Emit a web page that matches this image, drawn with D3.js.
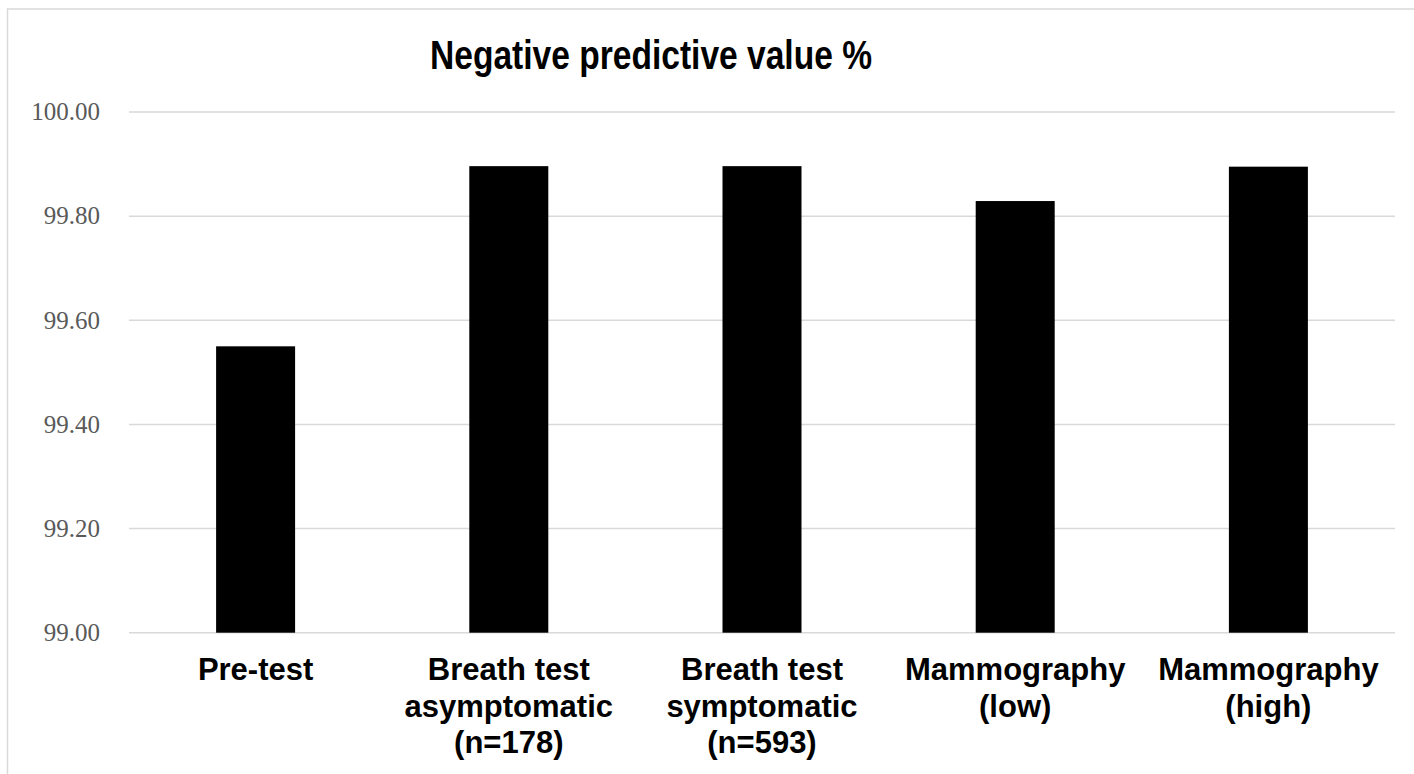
<!DOCTYPE html>
<html>
<head>
<meta charset="utf-8">
<script src="https://cdn.jsdelivr.net/npm/d3@7"></script>
<style>
  html, body { margin: 0; padding: 0; background: #fff; }
  svg { display: block; }
</style>
</head>
<body>
<svg id="chart" width="1414" height="774"></svg>
<script>
const categories = [
  "Pre-test",
  "Breath test asymptomatic (n=178)",
  "Breath test symptomatic (n=593)",
  "Mammography (low)",
  "Mammography (high)"
];
const values = [99.55, 99.896, 99.896, 99.829, 99.895];
const yTicks = [99.0, 99.2, 99.4, 99.6, 99.8, 100.0];
const title = "Negative predictive value %";

const svg = d3.select("#chart");
const W = 1414, H = 774;

// chart border (cropped at right / bottom)
svg.append("rect")
  .attr("x", 7.5).attr("y", 9)
  .attr("width", W + 20).attr("height", H + 20)
  .attr("fill", "#fff").attr("stroke", "#d9d9d9").attr("stroke-width", 1.5);

const plot = { left: 129, right: 1395, top: 112, bottom: 632.7 };

const x = d3.scaleBand().domain(categories).range([plot.left, plot.right]).padding(0);
const y = d3.scaleLinear().domain([99, 100]).range([plot.bottom, plot.top]);

// gridlines
svg.append("g").selectAll("line").data(yTicks).join("line")
  .attr("x1", plot.left).attr("x2", plot.right)
  .attr("y1", d => y(d)).attr("y2", d => y(d))
  .attr("stroke", "#d9d9d9").attr("stroke-width", 1.5);

// y tick labels
svg.append("g").selectAll("text").data(yTicks).join("text")
  .attr("x", 100).attr("y", d => y(d))
  .attr("dy", "0.33em")
  .attr("text-anchor", "end")
  .attr("font-family", "'Liberation Serif', 'DejaVu Serif', serif")
  .attr("font-size", 25)
  .attr("fill", "#595959")
  .text(d => d3.format(".2f")(d));

// bars
const barW = x.bandwidth() * 0.312;
svg.append("g").selectAll("rect").data(categories).join("rect")
  .attr("x", (d) => x(d) + x.bandwidth() / 2 - barW / 2)
  .attr("width", barW)
  .attr("y", (d, i) => y(values[i]))
  .attr("height", (d, i) => y(99) - y(values[i]))
  .attr("fill", "#000");

// category labels with wrapping
const labG = svg.append("g");
const maxW = x.bandwidth() - 6;
categories.forEach(cat => {
  const t = labG.append("text")
    .attr("text-anchor", "middle")
    .attr("font-family", "'Liberation Sans', Arial, sans-serif")
    .attr("font-weight", "bold")
    .attr("font-size", 31)
    .attr("fill", "#000");
  const cx = x(cat) + x.bandwidth() / 2;
  const words = cat.split(" ");
  let lines = [];
  let cur = [];
  const probe = t.append("tspan");
  words.forEach(w => {
    const test = cur.concat([w]).join(" ");
    probe.text(test);
    if (probe.node().getComputedTextLength() > maxW && cur.length) {
      lines.push(cur.join(" "));
      cur = [w];
    } else {
      cur.push(w);
    }
  });
  if (cur.length) lines.push(cur.join(" "));
  probe.remove();
  lines.forEach((ln, i) => {
    t.append("tspan").attr("x", cx).attr("y", 680 + i * 36.5).text(ln);
  });
});

// title
svg.append("text")
  .attr("x", 651).attr("y", 69)
  .attr("text-anchor", "middle")
  .attr("font-family", "'Liberation Sans', Arial, sans-serif")
  .attr("font-weight", "bold")
  .attr("font-size", 40)
  .attr("textLength", 442)
  .attr("lengthAdjust", "spacingAndGlyphs")
  .attr("fill", "#000")
  .text(title);
</script>
</body>
</html>
